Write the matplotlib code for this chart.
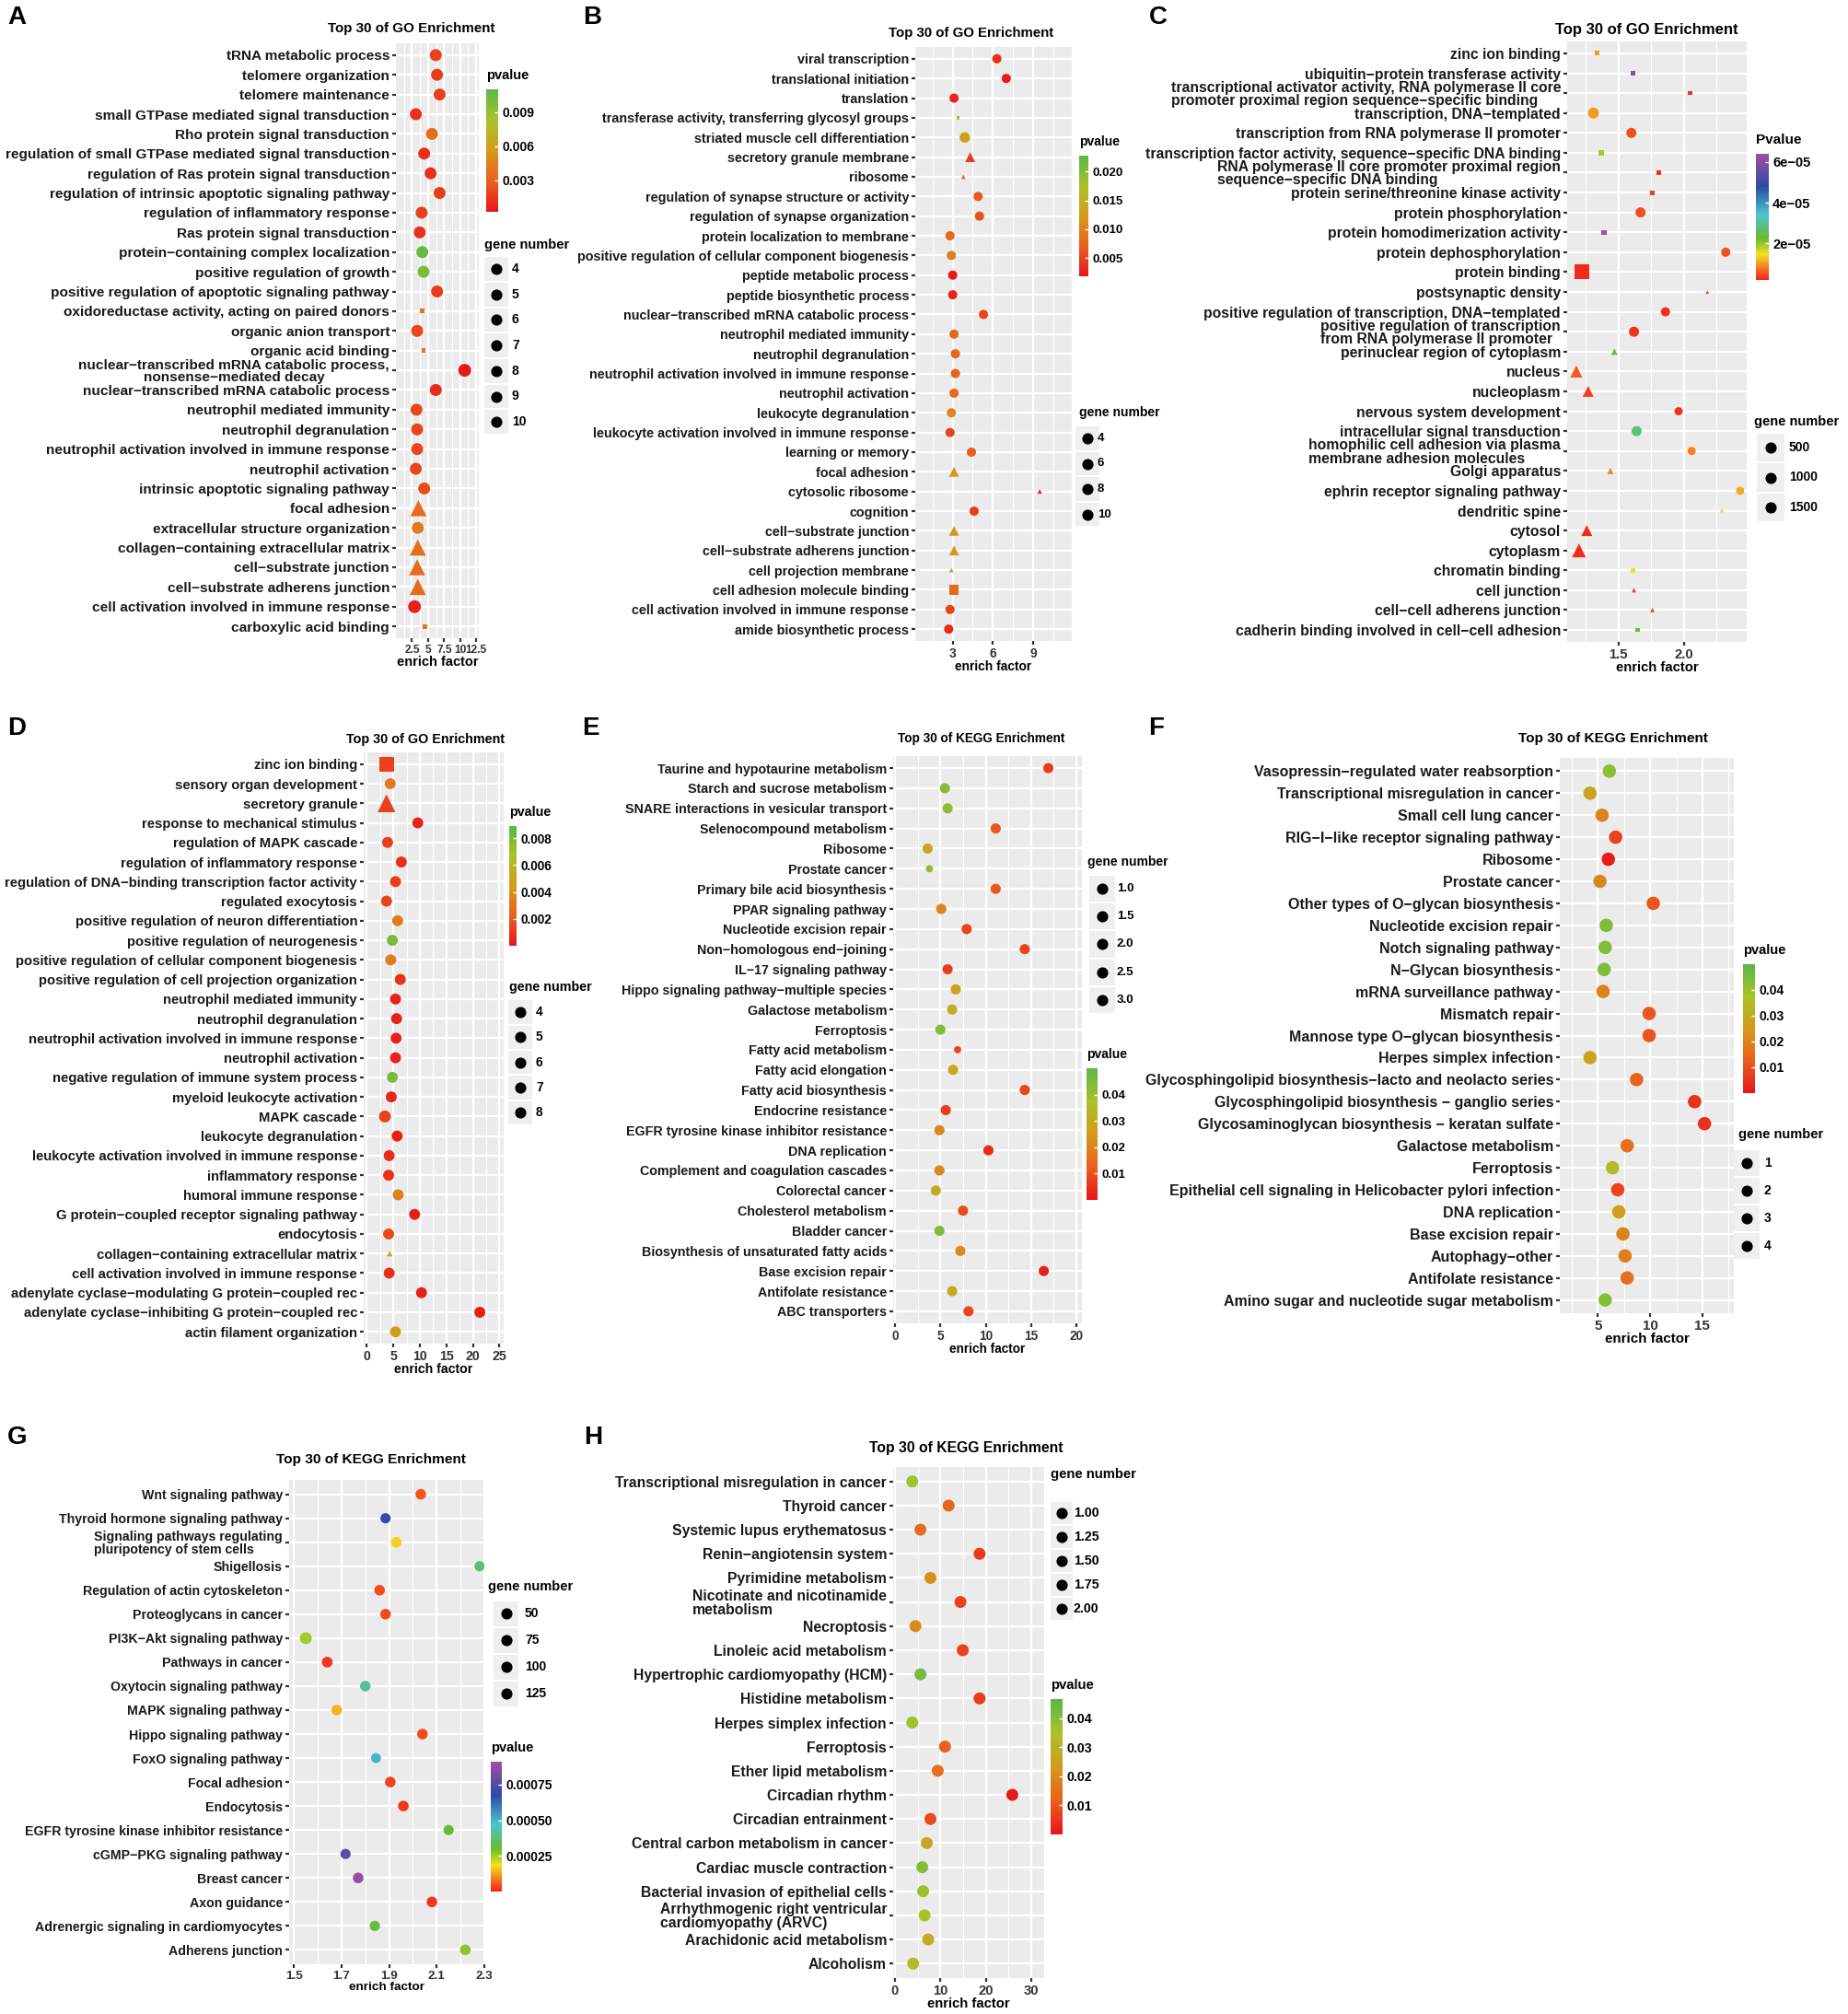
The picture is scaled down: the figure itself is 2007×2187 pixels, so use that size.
import numpy as np
import matplotlib.pyplot as plt
from matplotlib.colors import LinearSegmentedColormap, Normalize
from matplotlib.cm import ScalarMappable
from matplotlib.patches import Rectangle

plt.rcParams['font.family'] = ['Liberation Sans', 'DejaVu Sans']

# ---------------- data ----------------
A_terms = ['tRNA metabolic process', 'telomere organization', 'telomere maintenance',
           'small GTPase mediated signal transduction', 'Rho protein signal transduction',
           'regulation of small GTPase mediated signal transduction',
           'regulation of Ras protein signal transduction',
           'regulation of intrinsic apoptotic signaling pathway',
           'regulation of inflammatory response', 'Ras protein signal transduction',
           'protein−containing complex localization', 'positive regulation of growth',
           'positive regulation of apoptotic signaling pathway',
           'oxidoreductase activity, acting on paired donors', 'organic anion transport',
           'organic acid binding',
           'nuclear−transcribed mRNA catabolic process,\nnonsense−mediated decay',
           'nuclear−transcribed mRNA catabolic process', 'neutrophil mediated immunity',
           'neutrophil degranulation', 'neutrophil activation involved in immune response',
           'neutrophil activation', 'intrinsic apoptotic signaling pathway', 'focal adhesion',
           'extracellular structure organization', 'collagen−containing extracellular matrix',
           'cell−substrate junction', 'cell−substrate adherens junction',
           'cell activation involved in immune response', 'carboxylic acid binding']
A_factor = [6.2, 6.4, 6.8, 3.1, 5.6, 4.4, 5.4, 6.8, 4.0, 3.7, 4.1, 4.3, 6.4, 4.1, 3.3,
            4.3, 10.7, 6.2, 3.2, 3.3, 3.3, 3.1, 4.4, 3.5, 3.4, 3.4, 3.3, 3.4, 2.9, 4.5]
A_pvalue = [0.0018, 0.0016, 0.0016, 0.0012, 0.0035, 0.0012, 0.0012, 0.0016, 0.0018, 0.0012,
            0.0105, 0.0098, 0.0016, 0.004, 0.002, 0.004, 0.0003, 0.001, 0.002, 0.002,
            0.002, 0.002, 0.0022, 0.0035, 0.0042, 0.0035, 0.0035, 0.0035, 0.0006, 0.004]
A_genes = [7, 7, 7, 7, 7, 7, 7, 7, 7, 7, 7, 7, 7, 1, 7, 1, 8, 7, 7, 7, 7, 7, 7, 8, 7, 8, 8, 8, 8, 1]
A_shape = 'ooooooooooooosos' + 'ooooooo' + '^o^^^os'

B_terms = ['viral transcription', 'translational initiation', 'translation',
           'transferase activity, transferring glycosyl groups',
           'striated muscle cell differentiation', 'secretory granule membrane', 'ribosome',
           'regulation of synapse structure or activity', 'regulation of synapse organization',
           'protein localization to membrane',
           'positive regulation of cellular component biogenesis', 'peptide metabolic process',
           'peptide biosynthetic process', 'nuclear−transcribed mRNA catabolic process',
           'neutrophil mediated immunity', 'neutrophil degranulation',
           'neutrophil activation involved in immune response', 'neutrophil activation',
           'leukocyte degranulation', 'leukocyte activation involved in immune response',
           'learning or memory', 'focal adhesion', 'cytosolic ribosome', 'cognition',
           'cell−substrate junction', 'cell−substrate adherens junction',
           'cell projection membrane', 'cell adhesion molecule binding',
           'cell activation involved in immune response', 'amide biosynthetic process']
B_factor = [6.3, 7.0, 3.1, 3.4, 3.9, 4.3, 3.8, 4.9, 5.0, 2.8, 2.9, 3.0, 3.0, 5.3, 3.1,
            3.2, 3.2, 3.1, 2.9, 2.8, 4.4, 3.1, 9.5, 4.6, 3.1, 3.1, 2.9, 3.1, 2.8, 2.7]
B_pvalue = [0.0035, 0.0022, 0.0028, 0.018, 0.013, 0.0045, 0.008, 0.0065, 0.006, 0.008,
            0.010, 0.0022, 0.0028, 0.005, 0.008, 0.0075, 0.0075, 0.008, 0.0105, 0.005,
            0.007, 0.012, 0.002, 0.0045, 0.012, 0.012, 0.020, 0.008, 0.005, 0.0032]
B_genes = [7, 7, 7, 1, 9, 5, 1, 7, 7, 7, 7, 7, 7, 7, 7, 7, 7, 7, 7, 7, 7, 5, 1, 7, 5, 5, 1, 7, 7, 7]
B_shape = 'ooos' + 'o^^' + 'oooooooooooooo' + '^^o^^^soo'

C_terms = ['zinc ion binding', 'ubiquitin−protein transferase activity',
           'transcriptional activator activity, RNA polymerase II core\n'
           'promoter proximal region sequence−specific binding',
           'transcription, DNA−templated', 'transcription from RNA polymerase II promoter',
           'transcription factor activity, sequence−specific DNA binding',
           'RNA polymerase II core promoter proximal region\nsequence−specific DNA binding',
           'protein serine/threonine kinase activity', 'protein phosphorylation',
           'protein homodimerization activity', 'protein dephosphorylation', 'protein binding',
           'postsynaptic density', 'positive regulation of transcription, DNA−templated',
           'positive regulation of transcription\nfrom RNA polymerase II promoter',
           'perinuclear region of cytoplasm', 'nucleus', 'nucleoplasm',
           'nervous system development', 'intracellular signal transduction',
           'homophilic cell adhesion via plasma\nmembrane adhesion molecules',
           'Golgi apparatus', 'ephrin receptor signaling pathway', 'dendritic spine', 'cytosol',
           'cytoplasm', 'chromatin binding', 'cell junction', 'cell−cell adherens junction',
           'cadherin binding involved in cell−cell adhesion']
C_factor = [1.34, 1.61, 2.05, 1.31, 1.60, 1.37, 1.81, 1.76, 1.67, 1.39, 2.32, 1.22, 2.18,
            1.86, 1.62, 1.47, 1.18, 1.27, 1.96, 1.64, 2.06, 1.44, 2.43, 2.29, 1.26, 1.20,
            1.61, 1.62, 1.76, 1.65]
C_pvalue = [1.0e-5, 6.1e-5, 3e-6, 1.0e-5, 5e-6, 1.9e-5, 3e-6, 4e-6, 5e-6, 6.4e-5, 5e-6,
            2.5e-6, 5e-6, 3e-6, 3e-6, 2.3e-5, 5.5e-6, 4e-6, 3e-6, 2.8e-5, 8.5e-6, 8.5e-6,
            1.1e-5, 1.4e-5, 2.5e-6, 2.5e-6, 1.45e-5, 4.5e-6, 5e-6, 2.3e-5]
C_genes = [175, 175, 150, 1000, 850, 200, 175, 175, 850, 200, 700, 1800, 70, 700, 850, 215,
           743, 630, 560, 850, 560, 215, 560, 70, 630, 990, 170, 110, 110, 160]
C_shape = 'sssoosssosos^oo^^^ooo^o^^^s^^s'

D_terms = ['zinc ion binding', 'sensory organ development', 'secretory granule',
           'response to mechanical stimulus', 'regulation of MAPK cascade',
           'regulation of inflammatory response',
           'regulation of DNA−binding transcription factor activity', 'regulated exocytosis',
           'positive regulation of neuron differentiation',
           'positive regulation of neurogenesis',
           'positive regulation of cellular component biogenesis',
           'positive regulation of cell projection organization',
           'neutrophil mediated immunity', 'neutrophil degranulation',
           'neutrophil activation involved in immune response', 'neutrophil activation',
           'negative regulation of immune system process', 'myeloid leukocyte activation',
           'MAPK cascade', 'leukocyte degranulation',
           'leukocyte activation involved in immune response', 'inflammatory response',
           'humoral immune response', 'G protein−coupled receptor signaling pathway',
           'endocytosis', 'collagen−containing extracellular matrix',
           'cell activation involved in immune response',
           'adenylate cyclase−modulating G protein−coupled rec',
           'adenylate cyclase−inhibiting G protein−coupled rec', 'actin filament organization']
D_factor = [3.7, 4.4, 3.7, 9.6, 3.9, 6.5, 5.4, 3.7, 5.8, 4.8, 4.5, 6.3, 5.4, 5.6, 5.5, 5.4,
            4.8, 4.6, 3.4, 5.7, 4.2, 4.1, 5.9, 9.0, 4.1, 4.3, 4.2, 10.3, 21.3, 5.4]
D_pvalue = [0.0013, 0.0033, 0.0013, 0.0004, 0.0012, 0.0008, 0.0012, 0.0014, 0.0033, 0.0080,
            0.0033, 0.0008, 0.0004, 0.0004, 0.0004, 0.0004, 0.0080, 0.0005, 0.0013, 0.0003,
            0.0007, 0.0008, 0.0035, 0.0003, 0.0016, 0.0050, 0.0007, 0.0003, 0.0003, 0.0047]
D_genes = [11, 6, 10, 6, 6, 6, 6, 6, 6, 6, 6, 6, 6, 6, 6, 6, 6, 6, 7, 6, 6, 6, 6, 6, 6, 1, 6, 6, 6, 6]
D_shape = 'so^' + 'oooooooooooooooooooooo' + '^oooo'

E_terms = ['Taurine and hypotaurine metabolism', 'Starch and sucrose metabolism',
           'SNARE interactions in vesicular transport', 'Selenocompound metabolism',
           'Ribosome', 'Prostate cancer', 'Primary bile acid biosynthesis',
           'PPAR signaling pathway', 'Nucleotide excision repair', 'Non−homologous end−joining',
           'IL−17 signaling pathway', 'Hippo signaling pathway−multiple species',
           'Galactose metabolism', 'Ferroptosis', 'Fatty acid metabolism',
           'Fatty acid elongation', 'Fatty acid biosynthesis', 'Endocrine resistance',
           'EGFR tyrosine kinase inhibitor resistance', 'DNA replication',
           'Complement and coagulation cascades', 'Colorectal cancer', 'Cholesterol metabolism',
           'Bladder cancer', 'Biosynthesis of unsaturated fatty acids', 'Base excision repair',
           'Antifolate resistance', 'ABC transporters']
E_factor = [16.9, 5.5, 5.8, 11.1, 3.6, 3.8, 11.1, 5.1, 7.9, 14.3, 5.8, 6.7, 6.3, 5.0, 6.9,
            6.4, 14.3, 5.6, 4.9, 10.3, 4.9, 4.5, 7.5, 4.9, 7.2, 16.4, 6.3, 8.1]
E_pvalue = [0.007, 0.043, 0.042, 0.011, 0.028, 0.042, 0.011, 0.020, 0.008, 0.008, 0.007,
            0.027, 0.031, 0.044, 0.008, 0.029, 0.008, 0.007, 0.021, 0.004, 0.021, 0.030,
            0.009, 0.044, 0.022, 0.002, 0.029, 0.008]
E_genes = [2, 2, 2, 2, 2, 1, 2, 2, 2, 2, 2, 2, 2, 2, 1, 2, 2, 2, 2, 2, 2, 2, 2, 2, 2, 2, 2, 2]

F_terms = ['Vasopressin−regulated water reabsorption', 'Transcriptional misregulation in cancer',
           'Small cell lung cancer', 'RIG−I−like receptor signaling pathway', 'Ribosome',
           'Prostate cancer', 'Other types of O−glycan biosynthesis',
           'Nucleotide excision repair', 'Notch signaling pathway', 'N−Glycan biosynthesis',
           'mRNA surveillance pathway', 'Mismatch repair', 'Mannose type O−glycan biosynthesis',
           'Herpes simplex infection',
           'Glycosphingolipid biosynthesis−lacto and neolacto series',
           'Glycosphingolipid biosynthesis − ganglio series',
           'Glycosaminoglycan biosynthesis − keratan sulfate', 'Galactose metabolism',
           'Ferroptosis', 'Epithelial cell signaling in Helicobacter pylori infection',
           'DNA replication', 'Base excision repair', 'Autophagy−other',
           'Antifolate resistance', 'Amino sugar and nucleotide sugar metabolism']
F_factor = [6.1, 4.25, 5.4, 6.7, 6.0, 5.2, 10.3, 5.8, 5.7, 5.6, 5.5, 9.9, 9.9, 4.25, 8.7,
            14.25, 15.2, 7.8, 6.4, 6.9, 7.0, 7.4, 7.6, 7.8, 5.7]
F_pvalue = [0.042, 0.028, 0.020, 0.008, 0.001, 0.021, 0.011, 0.044, 0.044, 0.044, 0.020,
            0.011, 0.011, 0.028, 0.013, 0.005, 0.005, 0.016, 0.036, 0.008, 0.026, 0.020,
            0.019, 0.016, 0.043]
F_genes = [2, 2, 2, 2, 2, 2, 2, 2, 2, 2, 2, 2, 2, 2, 2, 2, 2, 2, 2, 2, 2, 2, 2, 2, 2]

G_terms = ['Wnt signaling pathway', 'Thyroid hormone signaling pathway',
           'Signaling pathways regulating\npluripotency of stem cells', 'Shigellosis',
           'Regulation of actin cytoskeleton', 'Proteoglycans in cancer',
           'PI3K−Akt signaling pathway', 'Pathways in cancer', 'Oxytocin signaling pathway',
           'MAPK signaling pathway', 'Hippo signaling pathway', 'FoxO signaling pathway',
           'Focal adhesion', 'Endocytosis', 'EGFR tyrosine kinase inhibitor resistance',
           'cGMP−PKG signaling pathway', 'Breast cancer', 'Axon guidance',
           'Adrenergic signaling in cardiomyocytes', 'Adherens junction']
G_factor = [2.033, 1.885, 1.93, 2.28, 1.86, 1.885, 1.55, 1.64, 1.80, 1.68, 2.04, 1.845,
            1.905, 1.96, 2.15, 1.717, 1.77, 2.08, 1.84, 2.22]
G_pvalue = [0.00005, 0.00069, 0.00017, 0.00038, 0.00004, 0.00004, 0.00025, 0.00002, 0.00041,
            0.00014, 0.00004, 0.0005, 0.00003, 0.00002, 0.00031, 0.00077, 0.00088, 0.00002,
            0.00032, 0.00027]
G_genes = [75, 70, 75, 70, 75, 75, 95, 78, 75, 75, 75, 65, 75, 75, 70, 70, 75, 75, 72, 75]

H_terms = ['Transcriptional misregulation in cancer', 'Thyroid cancer',
           'Systemic lupus erythematosus', 'Renin−angiotensin system', 'Pyrimidine metabolism',
           'Nicotinate and nicotinamide\nmetabolism', 'Necroptosis', 'Linoleic acid metabolism',
           'Hypertrophic cardiomyopathy (HCM)', 'Histidine metabolism',
           'Herpes simplex infection', 'Ferroptosis', 'Ether lipid metabolism',
           'Circadian rhythm', 'Circadian entrainment', 'Central carbon metabolism in cancer',
           'Cardiac muscle contraction', 'Bacterial invasion of epithelial cells',
           'Arrhythmogenic right ventricular\ncardiomyopathy (ARVC)',
           'Arachidonic acid metabolism', 'Alcoholism']
H_factor = [3.8, 11.8, 5.6, 18.6, 7.8, 14.4, 4.5, 14.9, 5.6, 18.6, 3.8, 11.0, 9.4, 25.8, 7.8,
            7.0, 6.0, 6.2, 6.5, 7.3, 4.0]
H_pvalue = [0.036, 0.013, 0.014, 0.006, 0.021, 0.007, 0.020, 0.007, 0.042, 0.006, 0.036,
            0.012, 0.015, 0.001, 0.008, 0.027, 0.040, 0.037, 0.035, 0.028, 0.033]
H_genes = [2, 2, 2, 2, 2, 2, 2, 2, 2, 2, 2, 2, 2, 2, 2, 2, 2, 2, 2, 2, 2]

# ---------------- styles ----------------
rg = LinearSegmentedColormap.from_list('rg', [(0, '#E8151B'), (0.25, '#E9601E'), (0.5, '#D59A1C'),
                                              (0.75, '#A9C22A'), (1, '#5BB747')])
rb = LinearSegmentedColormap.from_list('rb', [(0, '#F2231C'), (0.1, '#F57F20'), (0.2, '#F3E11E'),
                                              (0.33, '#66BC2F'), (0.52, '#4DC4CF'),
                                              (0.74, '#2C4BA6'), (1, '#A24EA5')])
MULT = {'o': 1.0, '^': 1.6, 's': 1.0}

W, H = 2008, 2187
fig = plt.figure(figsize=(W / 100, H / 100), dpi=100)


def rect(l, t, r, b):
    return [l / W, 1 - b / H, (r - l) / W, (b - t) / H]


ov = fig.add_axes([0, 0, 1, 1])
ov.set_xlim(0, W)
ov.set_ylim(H, 0)
ov.axis('off')


def panel(terms, factor, pvalue, genes, shapes, box, cmap, norm, k, fs,
          xlim, major, xlabels, minor, malign='right', xfs=None):
    xfs = fs * 0.95 if xfs is None else xfs
    ax = fig.add_axes(rect(*box))
    ax.set_facecolor('#EBEBEB')
    n = len(terms)
    y = np.arange(n)[::-1]
    factor = np.asarray(factor)
    pvalue = np.asarray(pvalue)
    genes = np.asarray(genes, float)
    shapes = np.array(list(shapes))
    for m in 'o^s':
        sel = shapes == m
        if sel.any():
            ax.scatter(factor[sel], y[sel], s=k * genes[sel] * MULT[m], c=pvalue[sel],
                       cmap=cmap, norm=norm, marker=m, linewidths=0, zorder=3)
    ax.set_yticks(y)
    ax.set_yticklabels(terms, fontsize=fs, fontweight='bold', color='#1a1a1a')
    for t in ax.get_yticklabels():
        t.set_multialignment(malign)
        t.set_linespacing(0.95)
    ax.set_ylim(-0.6, n - 0.4)
    ax.set_xlim(*xlim)
    ax.set_xticks(major)
    ax.set_xticklabels(xlabels, fontsize=xfs, fontweight='bold', color='#333333')
    ax.set_xticks(minor, minor=True)
    ax.grid(which='major', color='white', lw=1.6)
    ax.grid(which='minor', axis='x', color='white', lw=0.8)
    ax.set_axisbelow(True)
    for sp in ax.spines.values():
        sp.set_visible(False)
    ax.tick_params(which='major', length=3, width=1.6, color='#333333', pad=2)
    ax.tick_params(which='minor', length=0)
    ax.set_xlabel('enrich factor', fontsize=fs * 0.95, fontweight='bold', labelpad=0)
    return ax


def pbar(box, cmap, norm, ticks, labels, title, fs):
    cax = fig.add_axes(rect(*box))
    cb = fig.colorbar(ScalarMappable(norm=norm, cmap=cmap), cax=cax, ticks=ticks)
    cb.outline.set_visible(False)
    cb.set_ticklabels(labels)
    cax.tick_params(direction='in', color='white', length=3, width=1, labelsize=fs, pad=3)
    for t in cax.get_yticklabels():
        t.set_fontweight('bold')
    ov.text(box[0], box[1] - 8, title, fontsize=fs + 0.5, fontweight='bold',
            va='bottom', ha='left')


def glegend(title_xy, dot_x, lab_x, y0, step, labels, fs):
    ov.text(title_xy[0], title_xy[1], 'gene number', fontsize=fs + 0.5, fontweight='bold',
            va='center', ha='left')
    for i, lab in enumerate(labels):
        yy = y0 + i * step
        ov.add_patch(Rectangle((dot_x - step / 2 + 1, yy - step / 2 + 1), step - 2, step - 2,
                               color='#EFEFEF', lw=0))
        ov.scatter([dot_x], [yy], s=60, color='black', zorder=3)
        ov.text(lab_x, yy, lab, fontsize=fs, fontweight='bold', va='center', ha='left')


def heading(letter, lxy, title, txy, fs):
    ov.text(lxy[0], lxy[1], letter, fontsize=20, fontweight='bold', va='top', ha='left')
    ov.text(txy[0], txy[1], title, fontsize=fs, fontweight='bold', va='center', ha='center')


GO = 'Top 30 of GO Enrichment'
KEGG = 'Top 30 of KEGG Enrichment'

# A
nA = Normalize(0.0002, 0.011)
panel(A_terms, A_factor, A_pvalue, A_genes, A_shape, (430, 47, 520, 693), rg, nA, 12.5, 11.1,
      (0, 12.9), [2.5, 5, 7.5, 10, 12.5], ['2.5', '5', '7.5', '10', '12.5'],
      [1.25, 3.75, 6.25, 8.75, 11.25], malign='center', xfs=8.6)
heading('A', (8, 6), GO, (447, 31), 10.9)
pbar((528, 97, 541, 230), rg, nA, [0.003, 0.006, 0.009], ['0.003', '0.006', '0.009'], 'pvalue', 10)
glegend((526, 266), 539, 556, 292, 27.7, ['4', '5', '6', '7', '8', '9', '10'], 10)

# B
nB = Normalize(0.0018, 0.0228)
panel(B_terms, B_factor, B_pvalue, B_genes, B_shape, (994, 51, 1164, 696), rg, nB, 7.5, 10.4,
      (0.2, 11.9), [3, 6, 9], ['3', '6', '9'], [1.5, 4.5, 7.5, 10.5])
heading('B', (633, 6), GO, (1055, 36), 10.8)
pbar((1172, 169, 1182, 300), rg, nB, [0.005, 0.010, 0.015, 0.020],
     ['0.005', '0.010', '0.015', '0.020'], 'pvalue', 9.5)
glegend((1172, 448), 1181, 1192, 476, 27.5, ['4', '6', '8', '10'], 9.5)

# C
nC = Normalize(2e-6, 6.4e-5)
panel(C_terms, C_factor, C_pvalue, C_genes, C_shape, (1702, 45, 1897, 697), rb, nC, 0.074, 11.3,
      (1.11, 2.48), [1.5, 2.0], ['1.5', '2.0'], [1.25, 1.75, 2.25], malign='left')
heading('C', (1248, 6), GO, (1788, 32), 12)
pbar((1907, 167, 1921, 304), rb, nC, [2e-5, 4e-5, 6e-5], ['2e−05', '4e−05', '6e−05'],
     'Pvalue', 10.5)
glegend((1905, 458), 1923, 1943, 486, 32.5, ['500', '1000', '1500'], 10)

# D
nD = Normalize(0.0, 0.0089)
panel(D_terms, D_factor, D_pvalue, D_genes, D_shape, (395, 817, 547, 1459), rg, nD, 12.3, 10.7,
      (-0.6, 25.8), [0, 5, 10, 15, 20, 25], ['0', '5', '10', '15', '20', '25'],
      [2.5, 7.5, 12.5, 17.5, 22.5])
heading('D', (8, 778), GO, (462, 803), 10.4)
pbar((553, 897, 561, 1027), rg, nD, [0.002, 0.004, 0.006, 0.008],
     ['0.002', '0.004', '0.006', '0.008'], 'pvalue', 9.8)
glegend((553, 1072), 565, 582, 1099, 27.3, ['4', '5', '6', '7', '8'], 9.8)

# E
nE = Normalize(0.0, 0.05)
panel(E_terms, E_factor, E_pvalue, E_genes, 'o' * len(E_terms), (970, 821, 1175, 1437), rg, nE,
      32, 10.3, (-0.2, 20.6), [0, 5, 10, 15, 20], ['0', '5', '10', '15', '20'],
      [2.5, 7.5, 12.5, 17.5])
heading('E', (632, 778), KEGG, (1066, 802), 9.8)
pbar((1180, 1160, 1192, 1303), rg, nE, [0.01, 0.02, 0.03, 0.04],
     ['0.01', '0.02', '0.03', '0.04'], 'pvalue', 9.5)
glegend((1181, 936), 1197, 1213, 965, 30.2, ['1.0', '1.5', '2.0', '2.5', '3.0'], 9.5)

# F
nF = Normalize(0.0, 0.05)
panel(F_terms, F_factor, F_pvalue, F_genes, 'o' * len(F_terms), (1694, 823, 1883, 1426), rg, nF,
      55, 11.5, (1.36, 18.0), [5, 10, 15], ['5', '10', '15'], [2.5, 7.5, 12.5, 17.5])
heading('F', (1247, 778), KEGG, (1752, 802), 11.1)
pbar((1893, 1047, 1906, 1187), rg, nF, [0.01, 0.02, 0.03, 0.04],
     ['0.01', '0.02', '0.03', '0.04'], 'pvalue', 10)
glegend((1888, 1232), 1897, 1916, 1263, 30, ['1', '2', '3', '4'], 10)

# G
nG = Normalize(0.0, 0.00091)
panel(G_terms, G_factor, G_pvalue, G_genes, 'o' * len(G_terms), (314, 1607, 526, 2133), rb, nG,
      0.92, 10.2, (1.48, 2.30), [1.5, 1.7, 1.9, 2.1, 2.3], ['1.5', '1.7', '1.9', '2.1', '2.3'],
      [1.6, 1.8, 2.0, 2.2], malign='left')
heading('G', (8, 1548), KEGG, (403, 1585), 11.1)
pbar((533, 1913, 545, 2054), rb, nG, [0.00025, 0.0005, 0.00075],
     ['0.00025', '0.00050', '0.00075'], 'pvalue', 10)
glegend((530, 1723), 550, 570, 1752, 29, ['50', '75', '100', '125'], 10)

# H
nH = Normalize(0.0, 0.0465)
panel(H_terms, H_factor, H_pvalue, H_genes, 'o' * len(H_terms), (970, 1593, 1134, 2148), rg, nH,
      44, 11.3, (-0.4, 32.8), [0, 10, 20, 30], ['0', '10', '20', '30'], [5, 15, 25],
      malign='left')
heading('H', (634, 1548), KEGG, (1049, 1572), 11.3)
pbar((1141, 1845, 1154, 1992), rg, nH, [0.01, 0.02, 0.03, 0.04],
     ['0.01', '0.02', '0.03', '0.04'], 'pvalue', 10.2)
glegend((1141, 1601), 1153, 1166, 1643, 26, ['1.00', '1.25', '1.50', '1.75', '2.00'], 10.2)

fig.savefig('out.png', dpi=100)
